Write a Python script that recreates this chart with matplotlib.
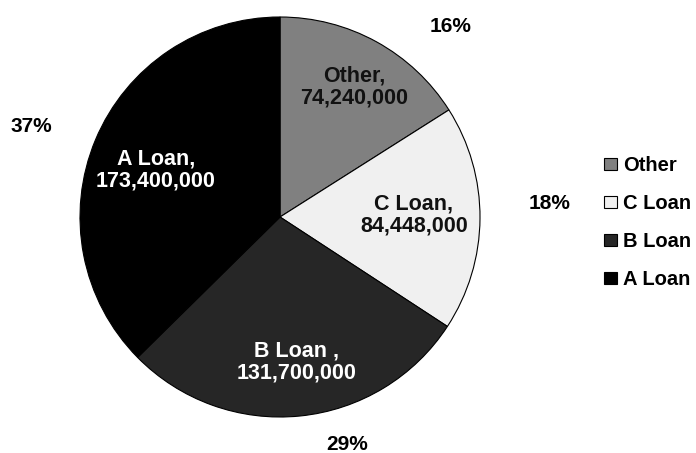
import matplotlib
matplotlib.use("Agg")
import matplotlib.pyplot as plt
from matplotlib.patches import Patch

categories = ["Other", "C Loan", "B Loan", "A Loan"]
values = [74240000, 84448000, 131700000, 173400000]
inner_labels = ["Other,\n74,240,000", "C Loan,\n84,448,000", "B Loan ,\n131,700,000", "A Loan,\n173,400,000"]
pct_labels = ["16%", "18%", "29%", "37%"]
colors = ["#808080", "#f0f0f0", "#262626", "#000000"]
text_colors = ["#111111", "#111111", "#ffffff", "#ffffff"]

plt.rcParams['font.family'] = ['Liberation Sans', 'DejaVu Sans']

fig = plt.figure(figsize=(6.96, 4.53), dpi=100)
ax = fig.add_axes([80/696, (453-417)/453, 400/696, 400/453])
wedges, _ = ax.pie(values, colors=colors, startangle=90, counterclock=False,
                   radius=1.0, wedgeprops=dict(edgecolor="black", linewidth=0.8))
ax.set_xlim(-1, 1)
ax.set_ylim(-1, 1)
ax.set_aspect("auto")
ax.axis("off")

inner_pos = [(0.37, 0.65), (0.67, 0.01), (0.085, -0.725), (-0.62, 0.235)]
pct_pos = [(0.855, 0.955), (1.35, 0.07), (0.335, -1.135), (-1.245, 0.455)]
for lab, (x, y), c in zip(inner_labels, inner_pos, text_colors):
    ax.text(x, y, lab, ha="center", va="center", fontsize=15.5, fontweight="bold",
            color=c, linespacing=1.1)
for lab, (x, y) in zip(pct_labels, pct_pos):
    ax.text(x, y, lab, ha="center", va="center", fontsize=15, fontweight="bold",
            color="black", clip_on=False)

handles = [Patch(facecolor=c, edgecolor="black", linewidth=0.8) for c in colors]
fig.legend(handles, categories, loc="upper left", bbox_to_anchor=(594/696, 1 - 146/453),
           frameon=False, prop=dict(weight="bold", size=14.5),
           handlelength=0.65, handleheight=0.55, handletextpad=0.3, labelspacing=0.95,
           borderpad=0)

fig.savefig("out.png", dpi=100)
